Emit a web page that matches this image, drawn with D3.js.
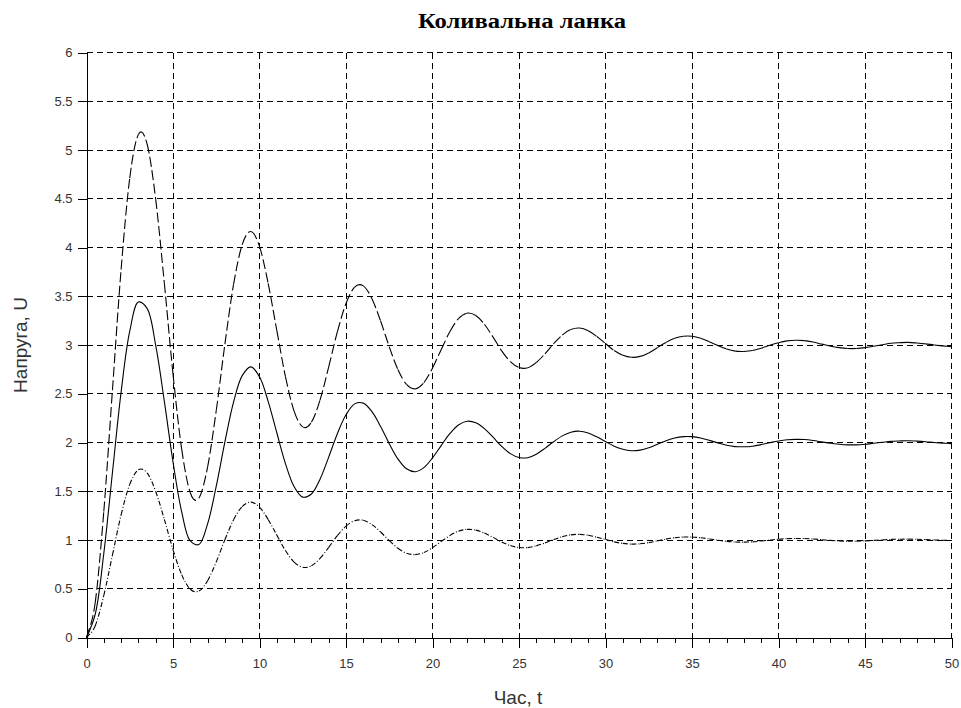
<!DOCTYPE html>
<html>
<head>
<meta charset="utf-8">
<script src="https://cdn.jsdelivr.net/npm/d3@7"></script>
<style>
  html, body { margin: 0; padding: 0; background: #fff; }
  svg { display: block; }
</style>
</head>
<body>
<svg id="chart" width="961" height="708"></svg>
<script>
// ---- data ----
const titleText = "Коливальна ланка";
const xLabelText = "Час, t";
const yLabelText = "Напруга, U";

const xTicks = [0, 5, 10, 15, 20, 25, 30, 35, 40, 45, 50];
const xMinorTicks = d3.range(0, 51, 1);
const yTicks = [0, 0.5, 1, 1.5, 2, 2.5, 3, 3.5, 4, 4.5, 5, 5.5, 6];
const yTickLabels = ["0", "0.5", "1", "1.5", "2", "2.5", "3", "3.5", "4", "4.5", "5", "5.5", "6"];

// time samples (step 0.5)
const times = [0,0.5,1,1.5,2,2.5,3,3.5,4,4.5,5,5.5,6,6.5,7,7.5,8,8.5,9,9.5,
  10,10.5,11,11.5,12,12.5,13,13.5,14,14.5,15,15.5,16,16.5,17,17.5,18,18.5,19,19.5,
  20,20.5,21,21.5,22,22.5,23,23.5,24,24.5,25,25.5,26,26.5,27,27.5,28,28.5,29,29.5,
  30,30.5,31,31.5,32,32.5,33,33.5,34,34.5,35,35.5,36,36.5,37,37.5,38,38.5,39,39.5,
  40,40.5,41,41.5,42,42.5,43,43.5,44,44.5,45,45.5,46,46.5,47,47.5,48,48.5,49,49.5,50];

// lower curve (dash-dot), settles at 1
const seriesK1 = [0,0.118,0.431,0.846,1.258,1.571,1.720,1.688,1.498,1.211,
  0.901,0.645,0.495,0.477,0.583,0.776,1.003,1.207,1.343,1.388,
  1.337,1.211,1.050,0.892,0.774,0.720,0.736,0.812,0.925,1.045,
  1.142,1.198,1.202,1.158,1.082,0.994,0.916,0.865,0.850,0.871,
  0.921,0.984,1.045,1.090,1.109,1.101,1.071,1.027,0.980,0.943,
  0.923,0.922,0.940,0.970,1.004,1.034,1.053,1.058,1.049,1.029,
  1.005,0.981,0.965,0.958,0.961,0.973,0.991,1.009,1.023,1.030,
  1.030,1.023,1.011,0.998,0.986,0.979,0.978,0.981,0.989,0.999,
  1.008,1.014,1.016,1.015,1.010,1.003,0.996,0.991,0.988,0.988,
  0.991,0.996,1.001,1.006,1.008,1.009,1.007,1.004,1.000,0.997,0.994];

// middle curve (solid), settles at 2
const seriesK2 = [0,0.236,0.862,1.692,2.516,3.142,3.440,3.376,2.996,2.422,
  1.802,1.290,0.990,0.954,1.166,1.552,2.006,2.414,2.686,2.776,
  2.674,2.422,2.100,1.784,1.548,1.440,1.472,1.624,1.850,2.090,
  2.284,2.396,2.404,2.316,2.164,1.988,1.832,1.730,1.700,1.742,
  1.842,1.968,2.090,2.180,2.218,2.202,2.142,2.054,1.960,1.886,
  1.846,1.844,1.880,1.940,2.008,2.068,2.106,2.116,2.098,2.058,
  2.010,1.962,1.930,1.916,1.922,1.946,1.982,2.018,2.046,2.060,
  2.060,2.046,2.022,1.996,1.972,1.958,1.956,1.962,1.978,1.998,
  2.016,2.028,2.032,2.030,2.020,2.006,1.992,1.982,1.976,1.976,
  1.982,1.992,2.002,2.012,2.016,2.018,2.014,2.008,2.000,1.994,1.988];

// upper curve (dashed), settles at 3
const seriesK3 = [0,0.354,1.293,2.538,3.774,4.713,5.160,5.064,4.494,3.633,
  2.703,1.935,1.485,1.431,1.749,2.328,3.009,3.621,4.029,4.164,
  4.011,3.633,3.150,2.676,2.322,2.160,2.208,2.436,2.775,3.135,
  3.426,3.594,3.606,3.474,3.246,2.982,2.748,2.595,2.550,2.613,
  2.763,2.952,3.135,3.270,3.327,3.303,3.213,3.081,2.940,2.829,
  2.769,2.766,2.820,2.910,3.012,3.102,3.159,3.174,3.147,3.087,
  3.015,2.943,2.895,2.874,2.883,2.919,2.973,3.027,3.069,3.090,
  3.090,3.069,3.033,2.994,2.958,2.937,2.934,2.943,2.967,2.997,
  3.024,3.042,3.048,3.045,3.030,3.009,2.988,2.973,2.964,2.964,
  2.973,2.988,3.003,3.018,3.024,3.027,3.021,3.012,3.000,2.991,2.982];

// ---- drawing ----
const svg = d3.select("#chart");
const x = d3.scaleLinear().domain([0, 50]).range([86.5, 951.5]);
const y = d3.scaleLinear().domain([0, 6]).range([637.5, 52.5]);

const sansFont = "'Liberation Sans', Arial, sans-serif";

// grid
const grid = svg.append("g").attr("stroke", "#000").attr("stroke-width", 1)
  .attr("stroke-dasharray", "6,4").attr("fill", "none")
  .attr("shape-rendering", "crispEdges");
grid.selectAll("line.gx").data(xTicks.filter(d => d > 0)).join("line")
  .attr("class", "gx")
  .attr("x1", d => x(d)).attr("x2", d => x(d))
  .attr("y1", y(6)).attr("y2", y(0));
grid.selectAll("line.gy").data(yTicks.filter(d => d > 0)).join("line")
  .attr("class", "gy")
  .attr("x1", x(0)).attr("x2", x(50))
  .attr("y1", d => y(d)).attr("y2", d => y(d));

// curves: each sample interval is drawn as its own Catmull-Rom piece so the
// dash pattern restarts per segment (as in the reference renderer)
function drawCurve(vals, dash) {
  const pts = times.map((t, i) => [x(t), y(vals[i])]);
  const n = pts.length;
  const g = svg.append("g").attr("fill", "none").attr("stroke", "#000")
    .attr("stroke-width", 1.1);
  if (!dash) {
    g.append("path").attr("d", d3.line().curve(d3.curveCatmullRom.alpha(0.5))(pts));
    return;
  }
  const segs = [];
  for (let i = 0; i < n - 1; i++) {
    const p0 = pts[Math.max(i - 1, 0)], p1 = pts[i], p2 = pts[i + 1], p3 = pts[Math.min(i + 2, n - 1)];
    const c1 = [p1[0] + (p2[0] - p0[0]) / 6, p1[1] + (p2[1] - p0[1]) / 6];
    const c2 = [p2[0] - (p3[0] - p1[0]) / 6, p2[1] - (p3[1] - p1[1]) / 6];
    segs.push(`M${p1[0]},${p1[1]}C${c1[0]},${c1[1]} ${c2[0]},${c2[1]} ${p2[0]},${p2[1]}`);
  }
  g.selectAll("path").data(segs).join("path").attr("d", d => d)
    .attr("stroke-dasharray", dash);
}
drawCurve(seriesK3, "10,3.5");
drawCurve(seriesK2, null);
drawCurve(seriesK1, "5,2,1,2");

// axes
const yAxis = d3.axisLeft(y).tickValues(yTicks)
  .tickFormat((d, i) => yTickLabels[i]).tickSize(9).tickSizeOuter(0).tickPadding(5);
const gy = svg.append("g").attr("transform", `translate(${x(0)},0)`).call(yAxis);
gy.selectAll("text").attr("font-family", sansFont).attr("font-size", 13).attr("fill", "#333");
gy.selectAll("line, path").attr("stroke", "#000").attr("shape-rendering", "crispEdges");

const xMinor = d3.axisBottom(x).tickValues(xMinorTicks).tickFormat("").tickSize(5).tickSizeOuter(0);
svg.append("g").attr("transform", `translate(0,${y(0)})`).call(xMinor)
  .selectAll("line, path").attr("stroke", "#000").attr("shape-rendering", "crispEdges");
const xAxis = d3.axisBottom(x).tickValues(xTicks).tickSize(10).tickSizeOuter(0).tickPadding(11);
const gx = svg.append("g").attr("transform", `translate(0,${y(0)})`).call(xAxis);
gx.selectAll("text").attr("font-family", sansFont).attr("font-size", 13).attr("fill", "#333");
gx.selectAll("line, path").attr("stroke", "#000").attr("shape-rendering", "crispEdges");

// title and axis labels
svg.append("text").attr("x", 522).attr("y", 28).attr("text-anchor", "middle")
  .attr("font-family", "'Liberation Serif', 'Times New Roman', serif")
  .attr("font-weight", "bold").attr("font-size", 20)
  .attr("textLength", 208).attr("lengthAdjust", "spacingAndGlyphs")
  .text(titleText);

svg.append("text").attr("x", 518).attr("y", 704).attr("text-anchor", "middle")
  .attr("font-family", sansFont).attr("font-size", 19).attr("fill", "#333")
  .text(xLabelText);

svg.append("text").attr("transform", "translate(27,345) rotate(-90)")
  .attr("text-anchor", "middle")
  .attr("font-family", sansFont).attr("font-size", 19).attr("fill", "#333")
  .text(yLabelText);
</script>
</body>
</html>
